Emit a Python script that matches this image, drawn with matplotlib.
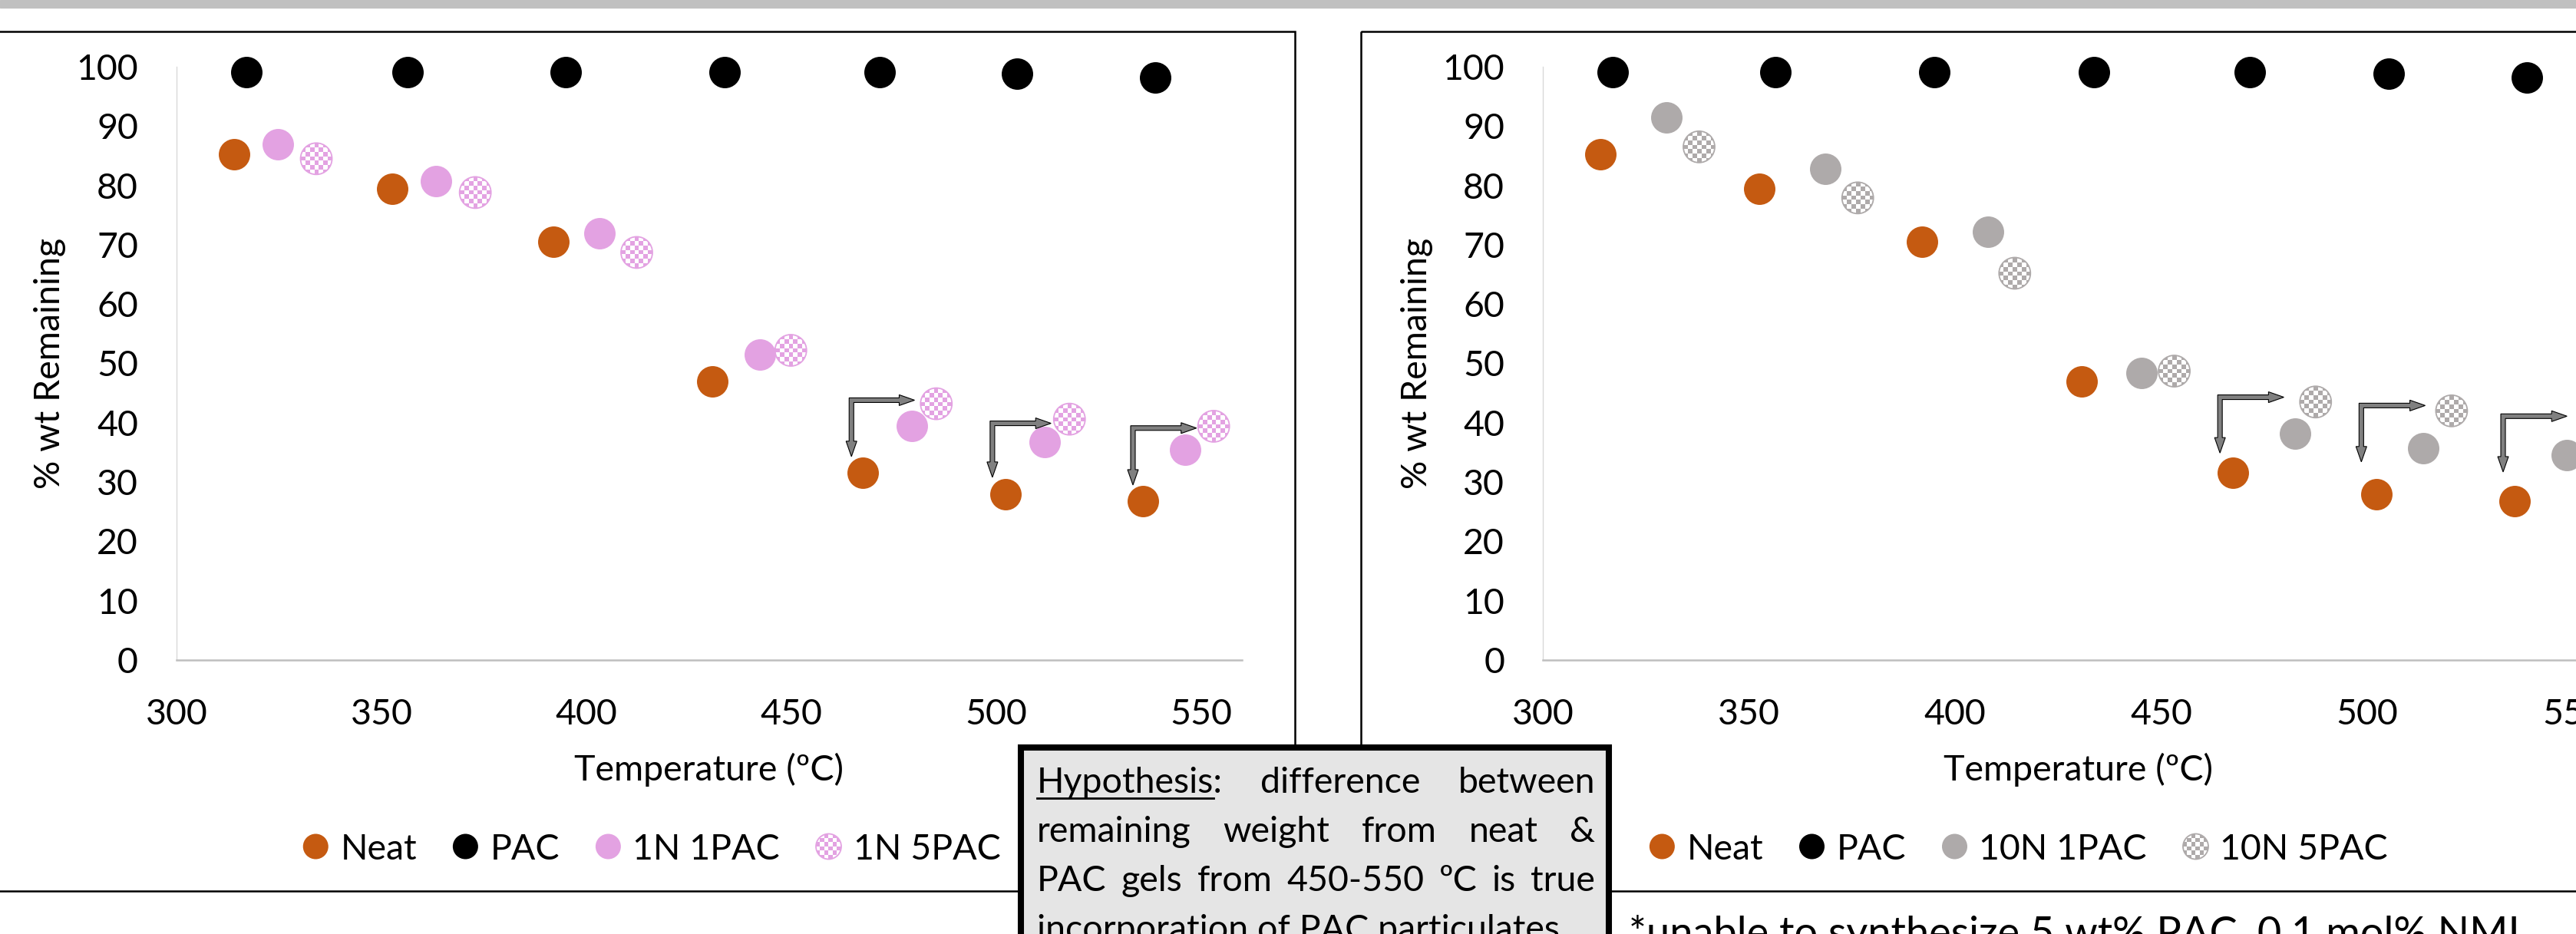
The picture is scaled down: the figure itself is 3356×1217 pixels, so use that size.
import numpy as np
import matplotlib
matplotlib.use('Agg')
import matplotlib.pyplot as plt
from matplotlib.patches import Rectangle, Circle, Ellipse, Polygon
from matplotlib.transforms import IdentityTransform
from matplotlib.colors import to_rgb

plt.rcParams['font.family'] = ['Lato', 'DejaVu Sans']

# ---- data (temperature in C, % wt remaining) ----
temp_neat = [314.0, 352.6, 392.0, 430.8, 467.5, 502.3, 535.8]
wt_neat = [85.2, 79.4, 70.5, 47.0, 31.6, 28.0, 26.8]
temp_pac = [317.0, 356.4, 395.0, 433.8, 471.5, 505.2, 538.8]
wt_pac = [99.1, 99.1, 99.1, 99.1, 99.1, 98.8, 98.2]
temp_1n1 = [324.7, 363.4, 403.2, 442.4, 479.5, 511.8, 546.2]
wt_1n1 = [86.9, 80.7, 71.9, 51.5, 39.4, 36.7, 35.5]
temp_1n5 = [334.1, 372.9, 412.3, 449.9, 485.4, 517.9, 553.1]
wt_1n5 = [84.5, 78.8, 68.7, 52.2, 43.2, 40.6, 39.4]
temp_10n1 = [330.0, 368.5, 408.0, 445.3, 482.6, 513.6, 548.4]
wt_10n1 = [91.5, 82.8, 72.2, 48.4, 38.2, 35.7, 34.6]
temp_10n5 = [337.9, 376.4, 414.5, 453.2, 487.5, 520.5, 556.0]
wt_10n5 = [86.5, 77.9, 65.2, 48.7, 43.5, 42.0, 40.5]

x_ticks = [300, 350, 400, 450, 500, 550]
y_ticks = [0, 10, 20, 30, 40, 50, 60, 70, 80, 90, 100]

# elbow arrows: (corner x, corner y, right tip x, down tip y)
arrows_left = [(464.7, 43.8, 480.1, 34.3), (499.1, 39.9, 513.4, 30.8), (533.4, 39.1, 548.9, 29.5)]
arrows_right = [(464.3, 44.3, 479.8, 34.9), (498.6, 42.9, 514.1, 33.4), (533.0, 41.1, 548.5, 31.7)]

hyp_lines = [["Hypothesis:", "difference", "between"],
             ["remaining", "weight", "from", "neat", "&"],
             ["PAC", "gels", "from", "450-550", "ºC", "is", "true"]]
hyp_last = "incorporation of PAC particulates"
note = "*unable to synthesize 5 wt% PAC, 0.1 mol% NMI"

ORANGE = '#C55A11'
PINK = '#E3A2E2'
GRAY = '#AEAAAA'

W, H = 3356, 1217
DPI = 100
FS = 33.5
MS = 870

fig = plt.figure(figsize=(W / DPI, H / DPI), dpi=DPI)
renderer = fig.canvas.get_renderer()

# pixel-coordinate overlay for frames, legends and the note box
deco = fig.add_axes([0, 0, 1, 1], zorder=0)
deco.set_xlim(0, W)
deco.set_ylim(H, 0)
deco.set_autoscale_on(False)
deco.axis('off')


def px_rect(x0, x1, y_top, y_bot):
    return [x0 / W, 1 - y_bot / H, (x1 - x0) / W, (y_bot - y_top) / H]


def text_width(s, size=FS):
    t = deco.text(0, 0, s, fontsize=size)
    w = t.get_window_extent(renderer=renderer).width
    t.remove()
    return w


def checker(ax, x, y, rx, ry, color, ncell, z):
    board = np.add.outer(np.arange(ncell), np.arange(ncell)) % 2
    img = np.ones((ncell, ncell, 3))
    img[board == 1] = to_rgb(color)
    clip = Ellipse((x, y), 2 * rx, 2 * ry, transform=ax.transData)
    im = ax.imshow(img, extent=[x - rx, x + rx, y - ry, y + ry], aspect='auto',
                   interpolation='nearest', zorder=z)
    im.set_clip_path(clip)
    ax.add_patch(Ellipse((x, y), 2 * rx, 2 * ry, fill=False, edgecolor=color,
                         lw=1.3, zorder=z + 0.1))


def elbow_arrow(ax, cx, cy, tx, ty, w=3, h=7, L=20):
    (px, py) = ax.transData.transform((cx, cy))
    (qx, _) = ax.transData.transform((tx, cy))
    (_, qy) = ax.transData.transform((cx, ty))
    verts = [(px - w, py + w), (qx - L, py + w), (qx - L, py + h), (qx, py),
             (qx - L, py - h), (qx - L, py - w), (px + w, py - w), (px + w, qy + L),
             (px + h, qy + L), (px, qy), (px - h, qy + L), (px - w, qy + L)]
    ax.add_patch(Polygon(verts, closed=True, transform=IdentityTransform(),
                         facecolor='#808080', edgecolor='black', lw=0.8, zorder=10))


def make_chart(ax, t1, w1, t5, w5, color, arrows):
    ax.set_xlim(300, 560)
    ax.set_ylim(0, 100)
    ax.set_autoscale_on(False)
    ax.set_facecolor('none')
    ax.scatter(temp_neat, wt_neat, s=MS, color=ORANGE, lw=0, zorder=2, clip_on=False)
    ax.scatter(temp_pac, wt_pac, s=MS, color='black', lw=0, zorder=3, clip_on=False)
    ax.scatter(t1, w1, s=MS, color=color, lw=0, zorder=4, clip_on=False)
    sx, sy = ax.transData.transform((301, 1)) - ax.transData.transform((300, 0))
    for x, y in zip(t5, w5):
        checker(ax, x, y, 20.5 / sx, 20.5 / sy, color, 7, 5)
    for a in arrows:
        elbow_arrow(ax, *a)
    ax.set_xticks(x_ticks)
    ax.set_yticks(y_ticks)
    for s in ('top', 'right'):
        ax.spines[s].set_visible(False)
    ax.spines['left'].set_color('#d9d9d9')
    ax.spines['left'].set_linewidth(1.0)
    ax.spines['bottom'].set_color('#bfbfbf')
    ax.spines['bottom'].set_linewidth(1.8)
    ax.tick_params(length=0, labelsize=FS, pad=36)
    ax.set_xlabel('Temperature (ºC)', fontsize=FS)
    ax.set_ylabel('% wt Remaining', fontsize=FS)


ax_l = fig.add_axes(px_rect(230, 1618, 87, 860), zorder=1)
ax_r = fig.add_axes(px_rect(2010, 3406, 87, 860), zorder=1)
make_chart(ax_l, temp_1n1, wt_1n1, temp_1n5, wt_1n5, PINK, arrows_left)
make_chart(ax_r, temp_10n1, wt_10n1, temp_10n5, wt_10n5, GRAY, arrows_right)

ax_l.xaxis.set_label_coords(0.5, (860 - 1017) / 773)
ax_r.xaxis.set_label_coords(0.5, (860 - 1017) / 773)
for ax in (ax_l, ax_r):
    ax.xaxis.label.set_va('baseline')
    ax.yaxis.label.set_va('center')
ax_l.yaxis.set_label_coords((65 - 230) / 1388, 0.5)
ax_r.yaxis.set_label_coords((1846 - 2010) / 1396, 0.5)

# top bar and chart frames
deco.add_patch(Rectangle((0, 0), W, 10, color='#c0c0c0', zorder=1))
deco.add_patch(Rectangle((-20, 41), 1707, 1120, fill=False, edgecolor='black', lw=1.8, zorder=1))
deco.add_patch(Rectangle((1773, 41), 1700, 1120, fill=False, edgecolor='black', lw=1.8, zorder=1))


def draw_legend(center, entries, y=1103, r=16.5, gap_t=15.5, gap_i=47):
    ws = [text_width(e[0]) for e in entries]
    total = sum(2 * r + gap_t + w for w in ws) + gap_i * (len(entries) - 1)
    x = center - total / 2
    for (lbl, color, chk), w in zip(entries, ws):
        if chk:
            checker(deco, x + r, y, r, r, color, 6, 3)
        else:
            deco.add_patch(Circle((x + r, y), r, color=color, lw=0, zorder=3))
        deco.text(x + 2 * r + gap_t, y + 17, lbl, fontsize=FS, va='baseline')
        x += 2 * r + gap_t + w + gap_i


draw_legend(849, [('Neat', ORANGE, False), ('PAC', 'black', False),
                  ('1N 1PAC', PINK, False), ('1N 5PAC', PINK, True)])
draw_legend(2630, [('Neat', ORANGE, False), ('PAC', 'black', False),
                   ('10N 1PAC', GRAY, False), ('10N 5PAC', GRAY, True)])

# hypothesis box
deco.add_patch(Rectangle((1330, 974), 766, 300, facecolor='#e5e5e5', edgecolor='black',
                         lw=5.8, zorder=6))
x0, x1 = 1351, 2078
base = [1033, 1097, 1161]
for words, yb in zip(hyp_lines, base):
    ws = [text_width(w) for w in words]
    gap = (x1 - x0 - sum(ws)) / (len(words) - 1)
    x = x0
    for wd, wdw in zip(words, ws):
        deco.text(x, yb, wd, fontsize=FS, va='baseline', zorder=7)
        x += wdw + gap
w_hyp = text_width("Hypothesis")
deco.plot([x0, x0 + w_hyp], [1033 + 7, 1033 + 7], color='black', lw=2, zorder=7)
deco.text(x0, 1225, hyp_last, fontsize=FS, va='baseline', zorder=7)

deco.text(2122, 1233, note, fontsize=39, va='baseline')

fig.savefig('out.png', dpi=DPI)
